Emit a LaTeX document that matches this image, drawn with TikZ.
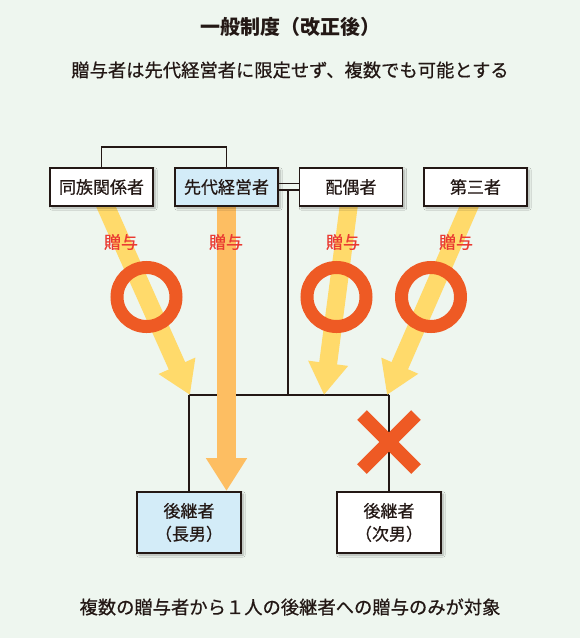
\documentclass[tikz,border=0pt]{standalone}
\usepackage{fontspec}
\setmainfont{Noto Sans CJK JP}
\newfontfamily\jpmed[FakeBold=0.6]{Noto Sans CJK JP}
\usetikzlibrary{arrows.meta,shadows.blur}
\definecolor{bg}{HTML}{EEF6EF}
\definecolor{ink}{HTML}{231815}
\definecolor{boxblue}{HTML}{D3ECF8}
\definecolor{arrowyellow}{HTML}{FFDA6B}
\definecolor{arroworange}{HTML}{FDBE62}
\definecolor{markred}{HTML}{EE5A24}
\definecolor{giftred}{HTML}{EA3A32}
\tikzset{
  personbox/.style={draw=ink, line width=1.4pt, fill=white, minimum width=103pt, minimum height=38pt, inner sep=0pt, text=ink, font=\jpmed\fontsize{17}{19}\selectfont, align=center,
    blur shadow={shadow xshift=2pt, shadow yshift=-2pt, shadow blur steps=6, shadow opacity=30}},
  heirbox/.style={personbox, minimum width=104pt, minimum height=61pt, font=\jpmed\fontsize{17}{23}\selectfont},
  link/.style={draw=ink, line width=1.2pt},
  giftarrow/.style={draw=arrowyellow, line width=18pt, -{Triangle[width=38pt,length=32pt]}},
  mainarrow/.style={draw=arroworange, line width=19pt, -{Triangle[width=39pt,length=33pt]}},
  okmark/.style={draw=markred, line width=13pt},
  ngmark/.style={draw=markred, line width=13.5pt},
  giftlabel/.style={text=giftred, font=\jpmed\fontsize{17}{18}\selectfont, inner sep=0pt},
}
\begin{document}
\begin{tikzpicture}[x=1pt,y=-1pt]
\fill[bg] (0,0) rectangle (580,638);
\useasboundingbox (0,0) rectangle (580,638);

% titles
\node[text=ink, font=\fontsize{20}{22}\selectfont\bfseries] (title) at (290,27) {一般制度（改正後）};
\node[text=ink, font=\jpmed\fontsize{18.3}{20}\selectfont] (subtitle) at (290,70) {贈与者は先代経営者に限定せず、複数でも可能とする};
\node[text=ink, font=\jpmed\fontsize{18.3}{20}\selectfont] (note) at (290,607) {複数の贈与者から１人の後継者への贈与のみが対象};

% coordinates for arrows
\coordinate (a1s) at (103,200);
\coordinate (a1e) at (190,395);
\coordinate (a2s) at (226.5,200);
\coordinate (a2e) at (226.5,491);
\coordinate (a3s) at (349.5,200);
\coordinate (a3e) at (324,395);
\coordinate (a4s) at (472,200);
\coordinate (a4e) at (387,395);

% junction coordinates
\coordinate (topL) at (101.5,147);
\coordinate (topR) at (226.5,147);
\coordinate (j1) at (288,190);
\coordinate (j2) at (288,395);
\coordinate (hl) at (189,395);
\coordinate (hr) at (389,395);

% connector lines
\draw[link] (j1) -- (j2);
\draw[link] (hl) -- (hr);

% heir boxes
\node[heirbox, fill=boxblue] (eldest) at (189,522.5) {後継者\\（長男）};
\node[heirbox] (second) at (389,522.5) {後継者\\（次男）};
\draw[link] (hl) -- (eldest.north);
\draw[link] (hr) -- (second.north);

% arrows
\draw[giftarrow] (a1s) -- (a1e);
\draw[giftarrow] (a3s) -- (a3e);
\draw[giftarrow] (a4s) -- (a4e);
\draw[mainarrow] (a2s) -- (a2e);

% top boxes
\node[personbox] (kin) at (101.5,187) {同族関係者};
\node[personbox, fill=boxblue] (prev) at (226.5,187) {先代経営者};
\node[personbox] (spouse) at (351,187) {配偶者};
\node[personbox] (third) at (475.5,187) {第三者};

\draw[link] (kin.north) -- (topL) -- (topR) -- (prev.north);
\draw[link] (prev.east |- 0,183.5) -- (spouse.west |- 0,183.5);
\draw[link] (prev.east |- 0,190) -- (spouse.west |- 0,190);

% labels
\node[giftlabel] (g1) at (121,242) {贈与};
\node[giftlabel] (g2) at (226,242) {贈与};
\node[giftlabel] (g3) at (343,242) {贈与};
\node[giftlabel] (g4) at (456,242) {贈与};

% OK marks
\draw[okmark] (146.5,297) circle (29.5);
\draw[okmark] (336.5,297) circle (29.5);
\draw[okmark] (431,297) circle (29.5);

% NG mark
\coordinate (x1) at (362,415);
\coordinate (x2) at (416,469);
\coordinate (x3) at (416,415);
\coordinate (x4) at (362,469);
\draw[ngmark] (x1) -- (x2);
\draw[ngmark] (x3) -- (x4);
\end{tikzpicture}
\end{document}
